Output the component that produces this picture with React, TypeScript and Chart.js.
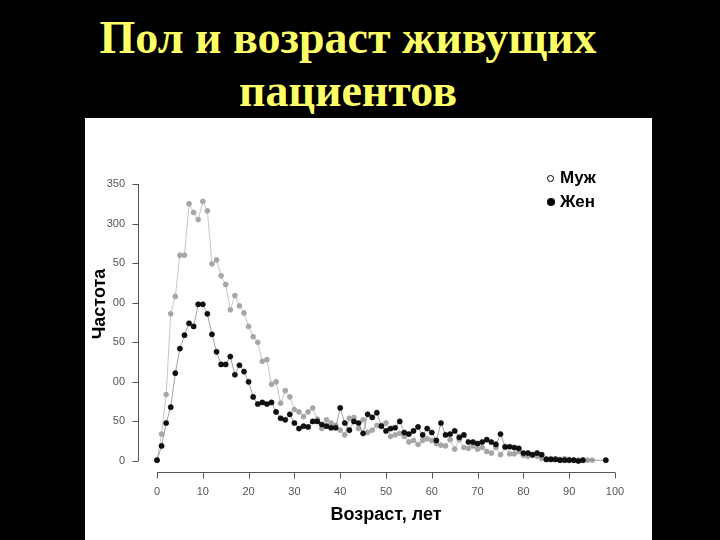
import React, { useEffect, useRef } from "react";
import { Chart, registerables } from "chart.js";

Chart.register(...registerables);

// counts per year of age (index = age)
const maleCounts = [
  1, 34, 84, 186, 208, 260, 260, 325, 314, 305,
  328, 316, 249, 254, 234, 223, 191, 209, 196, 187,
  170, 157, 150, 126, 128, 97, 100, 73, 89, 81,
  65, 62, 56, 62, 67, 53, 41, 52, 48, 45,
  39, 33, 54, 55, 41, 52, 36, 39, 45, 45,
  48, 31, 33, 35, 31, 24, 26, 21, 26, 28,
  26, 22, 20, 19, 27, 15, 27, 17, 16, 19,
  15, 17, 12, 10, 17, 8, 17, 9, 9, 12,
  7, 6, 7, 6, 3, 3, 3, 3, 2, 3,
  2, 1, 1, 1, 1, 1,
];
const femaleCounts: (number | null)[] = [
  1, 19, 48, 68, 111, 142, 159, 174, 170, 198,
  198, 186, 160, 138, 122, 122, 132, 109, 121, 113,
  100, 81, 72, 74, 72, 74, 62, 54, 52, 59,
  48, 41, 44, 43, 50, 50, 46, 44, 42, 42,
  67, 48, 39, 50, 48, 35, 59, 55, 61, 44,
  38, 41, 42, 50, 36, 34, 38, 43, 33, 41,
  36, 26, 48, 33, 34, 38, 30, 33, 24, 24,
  22, 24, 27, 24, 21, 34, 18, 18, 17, 16,
  10, 10, 8, 10, 8, 2, 2, 2, 1, 1,
  1, 1, 0, 1, null, null, null, null, 1,
];
const xTicks = [0, 10, 20, 30, 40, 50, 60, 70, 80, 90, 100];
const yTicks = [0, 50, 100, 150, 200, 250, 300, 350];
const seriesNames = ["Муж", "Жен"];

const sans = "'Liberation Sans', Arial, sans-serif";

// R-style detached axes + the pasted "Частота" label box
const rAxes = {
  id: "rAxes",
  afterDraw(chart: any) {
    const { ctx, scales } = chart;
    const x = scales.x;
    const y = scales.y;
    ctx.save();
    ctx.strokeStyle = "#555";
    ctx.lineWidth = 1;
    ctx.beginPath();
    const ax = Math.round(x.getPixelForValue(0) - 19) + 0.5;
    ctx.moveTo(ax, y.getPixelForValue(0));
    ctx.lineTo(ax, y.getPixelForValue(350));
    yTicks.forEach((v) => {
      const py = Math.round(y.getPixelForValue(v)) + 0.5;
      ctx.moveTo(ax - 6, py);
      ctx.lineTo(ax, py);
    });
    const ay = Math.round(y.getPixelForValue(0) + 11) + 0.5;
    ctx.moveTo(x.getPixelForValue(0), ay);
    ctx.lineTo(x.getPixelForValue(100), ay);
    xTicks.forEach((v) => {
      const px = Math.round(x.getPixelForValue(v)) + 0.5;
      ctx.moveTo(px, ay);
      ctx.lineTo(px, ay + 6);
    });
    ctx.stroke();

    ctx.fillStyle = "#fff";
    ctx.fillRect(0, 127, 28, 150);
    ctx.translate(15, 186);
    ctx.rotate(-Math.PI / 2);
    ctx.fillStyle = "#000";
    ctx.font = `bold 18px ${sans}`;
    ctx.textAlign = "center";
    ctx.textBaseline = "middle";
    ctx.fillText("Частота", 0, 0);
    ctx.restore();
  },
};

const AgeChart = () => {
  const chartRef = useRef<HTMLCanvasElement | null>(null);

  useEffect(() => {
    if (!chartRef.current) return;
    const chart = new Chart(chartRef.current, {
      type: "line",
      data: {
        datasets: [
          {
            label: seriesNames[1],
            data: femaleCounts.map((v, i) => ({ x: i, y: v })) as any,
            borderColor: "#8a8a8a",
            borderWidth: 0.8,
            pointBackgroundColor: "#111",
            pointBorderColor: "#000",
            pointBorderWidth: 0.5,
            pointRadius: 2.6,
            spanGaps: true,
            clip: false as any,
          },
          {
            label: seriesNames[0],
            data: maleCounts.map((v, i) => ({ x: i, y: v })),
            borderColor: "#c6c6c6",
            borderWidth: 1,
            pointBackgroundColor: "#a6a6a6",
            pointBorderColor: "#a6a6a6",
            pointRadius: 2.4,
            clip: false as any,
          },
        ],
      },
      options: {
        animation: false,
        responsive: true,
        maintainAspectRatio: false,
        layout: { padding: { top: 66, right: 37, left: 0, bottom: 0 } },
        plugins: { legend: { display: false }, tooltip: { enabled: false } },
        scales: {
          x: {
            type: "linear",
            min: 0,
            max: 100,
            grid: { display: false, drawTicks: false },
            border: { display: false },
            ticks: {
              stepSize: 10,
              padding: 24,
              color: "#555",
              font: { family: sans, size: 11 },
              maxRotation: 0,
            },
            title: {
              display: true,
              text: "Возраст, лет",
              color: "#000",
              font: { family: sans, size: 18, weight: "bold" },
              padding: { top: 0, bottom: 14 },
            },
            afterFit: (s: any) => {
              s.height = 79;
            },
          },
          y: {
            min: 0,
            max: 350,
            grid: { display: false, drawTicks: false },
            border: { display: false },
            ticks: {
              stepSize: 50,
              padding: 32,
              color: "#555",
              font: { family: sans, size: 11 },
            },
            afterFit: (s: any) => {
              s.width = 72;
            },
          },
        },
      },
      plugins: [rAxes],
    });

    return () => {
      chart.destroy();
    };
  }, []);

  return (
    <div style={{ position: "absolute", left: 85, top: 118, width: 567, height: 422, background: "#fff" }}>
      <canvas ref={chartRef} />
      <div style={{ position: "absolute", left: 0, top: 0, width: 567, height: 422, pointerEvents: "none", fontFamily: sans, fontSize: 17, fontWeight: "bold", color: "#000" }}>
        <div style={{ position: "absolute", left: 462, top: 49, lineHeight: "22px", display: "flex", alignItems: "center" }}>
          <span style={{ width: 7, height: 7, borderRadius: "50%", border: "1.5px solid #000", boxSizing: "border-box", marginRight: 6, display: "inline-block" }} />
          {seriesNames[0]}
        </div>
        <div style={{ position: "absolute", left: 462, top: 73, lineHeight: "22px", display: "flex", alignItems: "center" }}>
          <span style={{ width: 8, height: 8, borderRadius: "50%", background: "#000", marginRight: 5, display: "inline-block" }} />
          {seriesNames[1]}
        </div>
      </div>
    </div>
  );
};

const titleLine: React.CSSProperties = {
  position: "absolute",
  left: 0,
  width: 696,
  textAlign: "center",
  fontFamily: "'Liberation Serif', 'Times New Roman', serif",
  fontWeight: "bold",
  fontSize: 46,
  lineHeight: "46px",
  color: "#ffff66",
  whiteSpace: "nowrap",
};

export default function App() {
  return (
    <div style={{ position: "fixed", left: 0, top: 0, width: 720, height: 540, background: "#000", overflow: "hidden" }}>
      <div style={{ ...titleLine, top: 15 }}>Пол и возраст живущих</div>
      <div style={{ ...titleLine, top: 68 }}>пациентов</div>
      <AgeChart />
    </div>
  );
}
